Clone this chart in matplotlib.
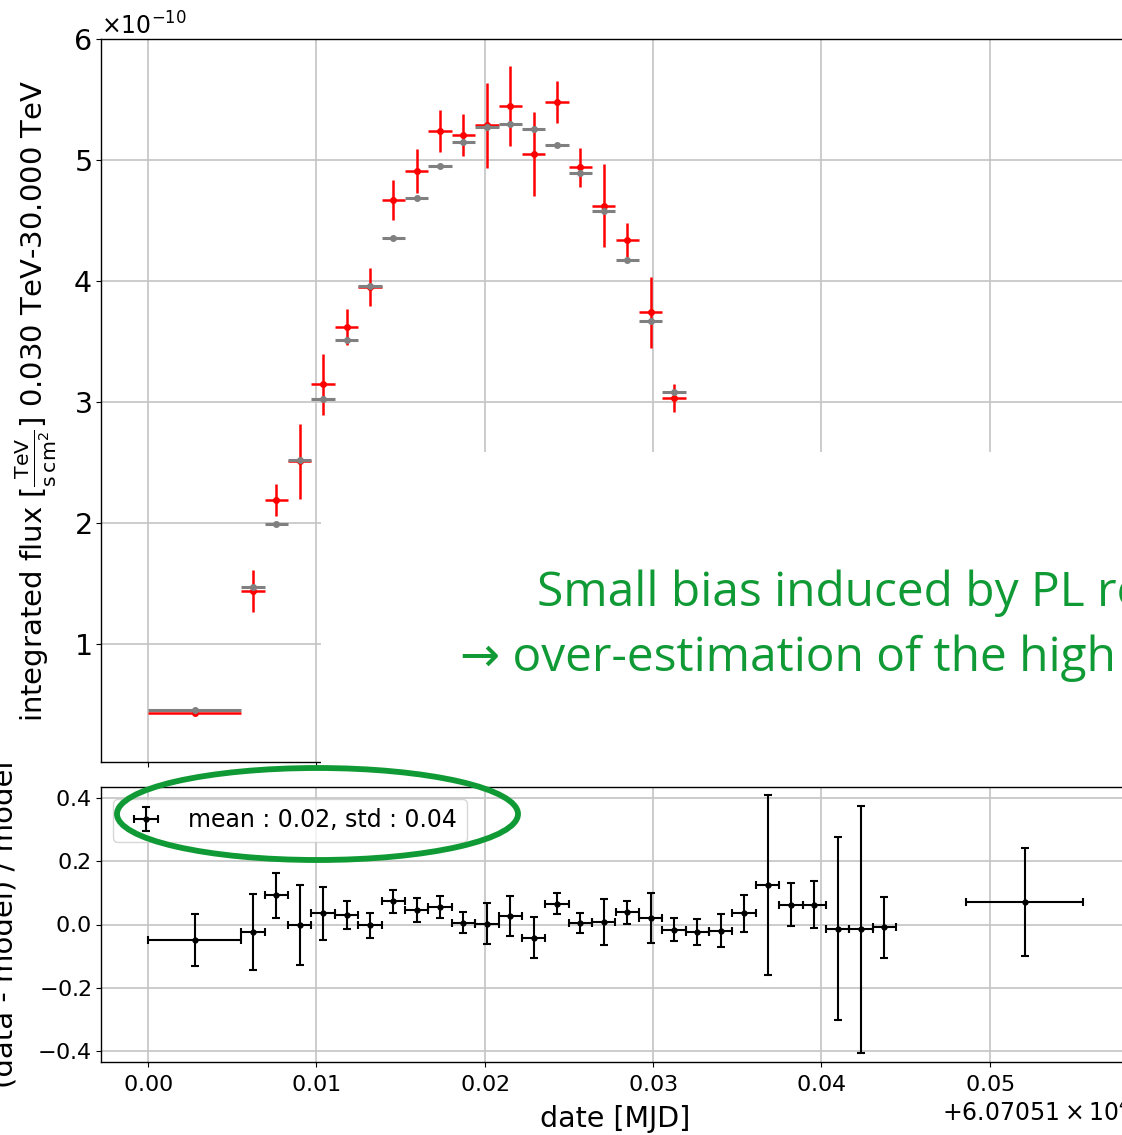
import numpy as np
import matplotlib
matplotlib.use("Agg")
from matplotlib import pyplot as plt
from matplotlib.patches import Ellipse, Rectangle
from matplotlib.ticker import ScalarFormatter

plt.rcParams['axes.formatter.use_mathtext'] = True
plt.rcParams['font.family'] = ['DejaVu Sans']

# time bins (days after t0)
t0 = 60705.1
bin_center = [0.002778, 0.006250, 0.007639, 0.009028, 0.010417, 0.011806, 0.013194,
              0.014583, 0.015972, 0.017361, 0.018750, 0.020139, 0.021528, 0.022917,
              0.024306, 0.025694, 0.027083, 0.028472, 0.029861, 0.031250, 0.032639,
              0.034028, 0.035417, 0.036806, 0.038194, 0.039583, 0.040972, 0.042361,
              0.043750, 0.052083]
bin_half = [0.002778] + [0.000694] * 28 + [0.003472]

# integrated flux, units of 1e-10 TeV / s cm2
flux_data = [0.432, 1.44, 2.19, 2.51, 3.146, 3.62, 3.95, 4.67, 4.91, 5.24, 5.207,
             5.286, 5.446, 5.05, 5.48, 4.94, 4.623, 4.34, 3.74, 3.03, 2.39, 1.91,
             1.55, 1.24, 0.85, 0.62, 0.41, 0.30, 0.22, 0.13]
flux_err = [0.01, 0.175, 0.135, 0.31, 0.25, 0.15, 0.16, 0.165, 0.18, 0.175, 0.17,
            0.35, 0.33, 0.345, 0.175, 0.16, 0.34, 0.14, 0.29, 0.115, 0.10, 0.10,
            0.09, 0.35, 0.06, 0.04, 0.09, 0.12, 0.02, 0.02]
flux_model = [0.451, 1.474, 1.99, 2.517, 3.025, 3.51, 3.96, 4.355, 4.69, 4.953, 5.15,
              5.275, 5.30, 5.26, 5.127, 4.895, 4.58, 4.174, 3.67, 3.083, 2.45, 1.95,
              1.50, 1.10, 0.80, 0.58, 0.42, 0.30, 0.22, 0.12]

# residuals (data - model) / model
resid = [-0.050, -0.025, 0.092, -0.002, 0.035, 0.029, -0.003, 0.073, 0.047, 0.056,
         0.006, 0.003, 0.027, -0.042, 0.066, 0.005, 0.008, 0.038, 0.022, -0.016,
         -0.025, -0.020, 0.035, 0.126, 0.063, 0.063, -0.013, -0.015, -0.009, 0.071]
resid_err = [0.082, 0.12, 0.07, 0.126, 0.084, 0.044, 0.04, 0.037, 0.038, 0.034,
             0.034, 0.065, 0.063, 0.065, 0.034, 0.031, 0.073, 0.035, 0.079, 0.036,
             0.041, 0.052, 0.058, 0.285, 0.068, 0.075, 0.29, 0.39, 0.097, 0.17]

x = t0 + np.array(bin_center)
xerr = np.array(bin_half)
scale = 1e-10

W, H = 1122, 1135
fig = plt.figure(figsize=(W / 100, H / 100), dpi=100)
ax1 = fig.add_axes([101 / W, 1 - 762 / H, (1130 - 101) / W, (762 - 39) / H])
ax2 = fig.add_axes([101 / W, 1 - 1062 / H, (1130 - 101) / W, (1062 - 787) / H], sharex=ax1)

# top panel: flux points and model
ax1.errorbar(x, np.array(flux_data) * scale, xerr=xerr, yerr=np.array(flux_err) * scale,
             fmt='o', color='red', ms=4, lw=1.8, zorder=3)
ax1.errorbar(x, np.array(flux_model) * scale, xerr=xerr, fmt='o', color='gray',
             ms=4, lw=2.2, zorder=4)
ax1.set_ylim(0.025e-10, 6e-10)
ax1.set_yticks([1e-10, 2e-10, 3e-10, 4e-10, 5e-10, 6e-10])
ax1.grid(True, color='#c4c4c4', lw=1.2)
ax1.tick_params(labelbottom=False)
ax1.tick_params(axis='y', labelsize=20.5)
ax1.yaxis.get_offset_text().set_fontsize(17)
ax1.set_ylabel(r'integrated flux [$\mathrm{\frac{TeV}{s\,cm^{2}}}$] 0.030 TeV-30.000 TeV',
               fontsize=21)
ax1.yaxis.set_label_coords(-0.041, 0.5)

# bottom panel: residuals
ax2.errorbar(x, resid, xerr=xerr, yerr=resid_err, fmt='.', color='black', ms=7,
             lw=1.5, capsize=3, capthick=1.5, label='mean : 0.02, std : 0.04')
ax2.set_ylim(-0.435, 0.435)
ax2.set_yticks([-0.4, -0.2, 0.0, 0.2, 0.4])
ax2.set_xlim(t0 - 0.002778, t0 + 0.058333)
ax2.xaxis.set_major_formatter(ScalarFormatter(useOffset=t0, useMathText=True))
ax2.grid(True, color='#c4c4c4', lw=1.2)
ax2.tick_params(axis='y', labelsize=16)
ax2.tick_params(axis='x', labelsize=16, pad=6)
ax2.xaxis.get_offset_text().set_fontsize(17)
ax2.set_xlabel('date [MJD]', fontsize=20.5, labelpad=7)
ax2.set_ylabel('(data - model) / model', fontsize=21)
ax2.yaxis.set_label_coords(-0.08, 0.5)
ax2.legend(loc='upper left', fontsize=17)

for a in (ax1, ax2):
    for s in a.spines.values():
        s.set_linewidth(1.0)

# slide overlay: white box, comment and highlight
fig.add_artist(Rectangle((321 / W, 1 - 780 / H), 1.0, (780 - 452) / H,
                         transform=fig.transFigure, facecolor='white',
                         edgecolor='none', zorder=5))
green = '#109a35'
fig.text(537 / W, 1 - 606 / H, 'Small bias induced by PL reconstruction', color=green,
         fontsize=34.5, family=['Open Sans', 'DejaVu Sans'], va='baseline', zorder=6)
fig.text(460 / W, 1 - 671 / H, '\u2192 over-estimation of the high energy flux', color=green,
         fontsize=34.5, family=['Open Sans', 'DejaVu Sans'], va='baseline', zorder=6)
fig.add_artist(Ellipse((317.5 / W, 1 - 814 / H), 401 / W, 92 / H,
                       transform=fig.transFigure, facecolor='none',
                       edgecolor=green, lw=4.2, zorder=7))

fig.savefig('out.png', dpi=100)
